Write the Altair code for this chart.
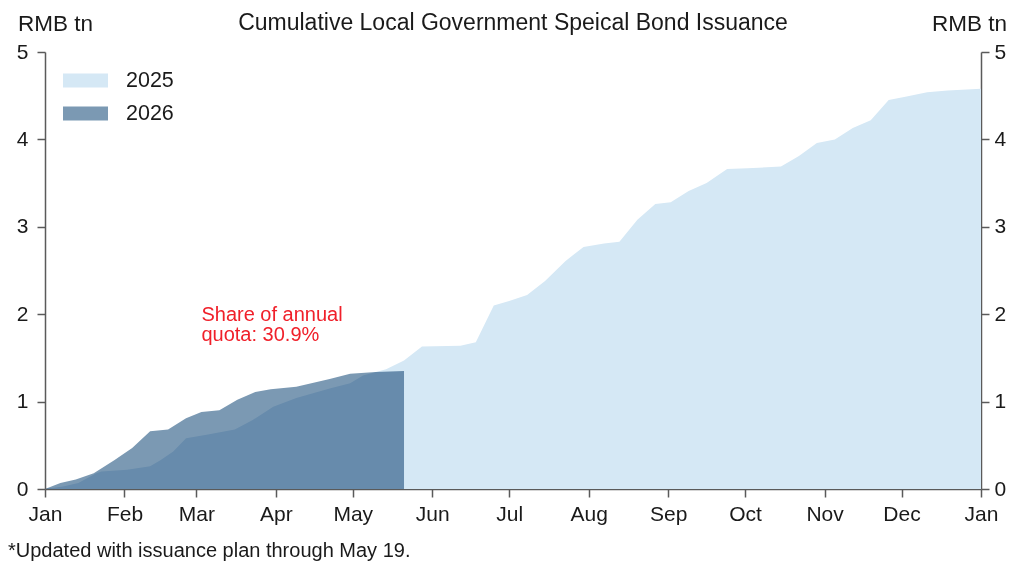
import altair as alt
import pandas as pd

# ---- data (x positions are calendar positions within the year) ----
dates_2025 = ["2026-01-01", "2026-01-08", "2026-01-14", "2026-01-21", "2026-01-23", "2026-02-02",
              "2026-02-11", "2026-02-15", "2026-02-20", "2026-02-25", "2026-03-05", "2026-03-16",
              "2026-03-23", "2026-03-31", "2026-04-09", "2026-04-22", "2026-04-30", "2026-05-05",
              "2026-05-14", "2026-05-21", "2026-05-28", "2026-06-12", "2026-06-18", "2026-06-25",
              "2026-07-01", "2026-07-08", "2026-07-15", "2026-07-23", "2026-07-30", "2026-08-07",
              "2026-08-13", "2026-08-20", "2026-08-27", "2026-09-02", "2026-09-09", "2026-09-16",
              "2026-09-24", "2026-10-02", "2026-10-15", "2026-10-22", "2026-10-29", "2026-11-05",
              "2026-11-12", "2026-11-19", "2026-11-26", "2026-12-03", "2026-12-11", "2026-12-19",
              "2027-01-01"]
values_2025 = [0.00, 0.03, 0.07, 0.18, 0.20, 0.22,
               0.26, 0.33, 0.43, 0.58, 0.62, 0.68,
               0.79, 0.94, 1.04, 1.15, 1.21, 1.30,
               1.37, 1.47, 1.63, 1.64, 1.68, 2.10,
               2.15, 2.22, 2.38, 2.61, 2.77, 2.81,
               2.83, 3.08, 3.26, 3.28, 3.41, 3.50,
               3.66, 3.67, 3.69, 3.81, 3.96, 4.00,
               4.13, 4.22, 4.45, 4.49, 4.54, 4.56,
               4.58]

dates_2026 = ["2026-01-01", "2026-01-07", "2026-01-13", "2026-01-20", "2026-01-28", "2026-02-04",
              "2026-02-11", "2026-02-18", "2026-02-25", "2026-03-03", "2026-03-10", "2026-03-17",
              "2026-03-24", "2026-03-30", "2026-04-09", "2026-04-22", "2026-04-30", "2026-05-10",
              "2026-05-21"]
values_2026 = [0.00, 0.07, 0.11, 0.18, 0.33, 0.47,
               0.66, 0.68, 0.81, 0.88, 0.90, 1.02,
               1.11, 1.14, 1.17, 1.26, 1.32, 1.34,
               1.35]

series_names = ["2025", "2026"]
series_colors = ["#d5e8f5", "#7b99b3"]

note_date = ["2026-03-03"]
note_value = [2.10]
note_text = ["Share of annual\nquota: 30.9%"]

title_text = "Cumulative Local Government Speical Bond Issuance"
unit_text = "RMB tn"
footnote_text = "*Updated with issuance plan through May 19."

# ---- tables ----
df25 = pd.DataFrame({"date": [d + "T00:00:00" for d in dates_2025], "value": values_2025, "series": "2025"})
df26 = pd.DataFrame({"date": [d + "T00:00:00" for d in dates_2026], "value": values_2026, "series": "2026"})
dfnote = pd.DataFrame({"date": [d + "T00:00:00" for d in note_date], "value": note_value, "text": note_text})
dffoot = pd.DataFrame({"text": [footnote_text]})

FONT = "Liberation Sans"
W, H = 936, 437

x_scale = alt.Scale(domain=[alt.DateTime(year=2026, month=1, date=1),
                            alt.DateTime(year=2027, month=1, date=1)], nice=False)
y_scale = alt.Scale(domain=[0, 5], nice=False)
color_scale = alt.Scale(domain=series_names, range=series_colors)

x_axis = alt.Axis(format="%b", tickCount="month", labelFlush=False, labelOverlap=False,
                  grid=False, title=None, labelFontSize=21, labelPadding=6, tickSize=8,
                  labelFont=FONT, labelColor="#1a1a1a", domainColor="#5a5a5a",
                  tickColor="#5a5a5a", domainWidth=1.5, tickWidth=1.5)

def y_axis(orient, tx, pad):
    return alt.Axis(orient=orient, values=[0, 1, 2, 3, 4, 5], grid=False, title=unit_text,
                    titleAngle=0, titleAlign="center", titleBaseline="alphabetic",
                    titleX=tx, titleY=-22, titleFont=FONT, titleFontSize=22.5,
                    titleFontWeight="normal", titleColor="#1a1a1a",
                    labelFontSize=21, labelFont=FONT, labelColor="#1a1a1a",
                    labelPadding=pad, tickSize=8, domainColor="#5a5a5a", tickColor="#5a5a5a",
                    domainWidth=1.5, tickWidth=1.5)

legend = alt.Legend(title=None, orient="none", legendX=18, legendY=6, direction="vertical",
                    symbolType="M-1,-0.31L1,-0.31L1,0.31L-1,0.31Z", symbolSize=2025,
                    symbolStrokeWidth=0, symbolOpacity=1, labelFontSize=21.5, labelFont=FONT,
                    labelColor="#1a1a1a", labelOffset=18, rowPadding=0, padding=0)

area25 = alt.Chart(df25).mark_area(opacity=1, line=False).encode(
    x=alt.X("date:T", scale=x_scale, axis=x_axis),
    y=alt.Y("value:Q", scale=y_scale, axis=y_axis("left", 10, 9)),
    color=alt.Color("series:N", scale=color_scale, legend=legend),
)

area26 = alt.Chart(df26).mark_area(opacity=1, blend="multiply").encode(
    x=alt.X("date:T", scale=x_scale),
    y=alt.Y("value:Q", scale=y_scale, axis=y_axis("right", -12, 5)),
    color=alt.Color("series:N", scale=color_scale, legend=legend),
)

note = alt.Chart(dfnote).mark_text(align="left", baseline="top", fontSize=20, font=FONT,
                                   color="#f0202a", lineBreak="\n", lineHeight=20).encode(
    x=alt.X("date:T", scale=x_scale),
    y=alt.Y("value:Q", scale=y_scale, axis=None),
    text="text:N")

foot = alt.Chart(dffoot).mark_text(align="left", baseline="middle", fontSize=20, font=FONT,
                                   color="#1a1a1a").encode(
    x=alt.value(-37), y=alt.value(H + 62), text="text:N")

chart = alt.layer(area25, area26, note, foot).resolve_scale(y="shared").resolve_axis(
    y="independent"
).properties(
    width=W, height=H,
    title=alt.TitleParams(title_text, anchor="middle", fontSize=23, font=FONT,
                          fontWeight="normal", color="#1a1a1a", dy=23, offset=0),
    autosize=alt.AutoSizeParams(type="none"),
    padding={"left": 37, "top": 44, "right": 27, "bottom": 74},
).configure(background="white").configure_view(strokeWidth=0, stroke="transparent")

chart.save("out.html", embed_options={"renderer": "svg", "actions": False})
